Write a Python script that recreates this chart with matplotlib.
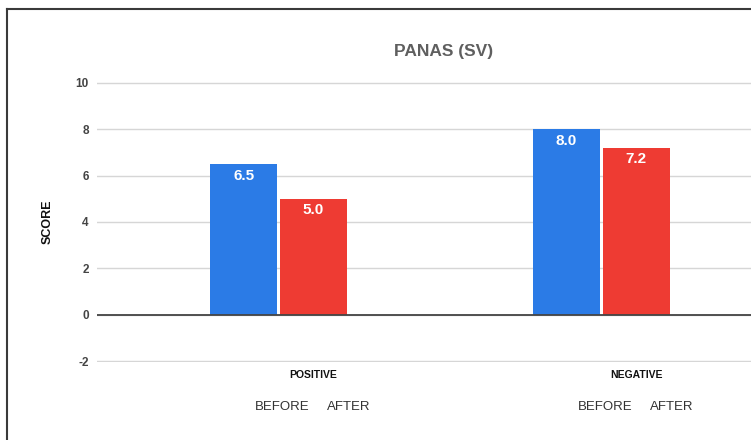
import matplotlib
matplotlib.use("Agg")
import matplotlib.pyplot as plt
from matplotlib.lines import Line2D
import numpy as np

categories = ["POSITIVE", "NEGATIVE"]
before = [6.5, 8.0]
after = [5.0, 7.2]
yticks = [-2, 0, 2, 4, 6, 8, 10]
title = "PANAS (SV)"
ylabel = "SCORE"
sub_labels = ["BEFORE", "AFTER"]

plt.rcParams['font.family'] = ['Liberation Sans', 'DejaVu Sans']

W, H = 751, 440
fig = plt.figure(figsize=(W / 100, H / 100), dpi=100)
ax = fig.add_axes([97 / W, 1 - 362 / H, 1 - 97 / W, (362 - 82) / H])

x = np.arange(len(categories))
bw = 0.207
off = 0.108
blue = "#2B7BE6"
red = "#EE3B33"
b1 = ax.bar(x - off, before, bw, color=blue, zorder=3)
b2 = ax.bar(x + off, after, bw, color=red, zorder=3)

for bars, vals in ((b1, before), (b2, after)):
    for r, v in zip(bars, vals):
        ax.text(r.get_x() + r.get_width() / 2, v - 0.2, f"{v:.1f}",
                ha="center", va="top", color="white", fontsize=11,
                fontweight="bold", zorder=4)

ax.set_xlim(-0.562, 1.463)
ax.set_ylim(-2.03, 10.03)
ax.set_yticks(yticks)
ax.set_yticklabels([str(t) for t in yticks], fontsize=8.5, fontweight="bold", color="#444444")
ax.set_xticks([])
ax.tick_params(axis="y", length=0, pad=6)
ax.grid(axis="y", color="#d6d6d6", lw=1, zorder=0)
ax.axhline(0, color="#444444", lw=1.3, zorder=3.5)
for s in ax.spines.values():
    s.set_visible(False)

ax.set_ylabel(ylabel, fontsize=9, fontweight="bold", color="#111111", labelpad=16)

tr = ax.get_xaxis_transform()
for i, c in enumerate(categories):
    ax.text(i + 0.108, -0.046, c, transform=tr, ha="center", va="center",
            fontsize=7.5, fontweight="bold", color="#111111")
    ax.text(i + 0.012, -0.161, sub_labels[0], transform=tr, ha="center", va="center",
            fontsize=9.5, color="#333333")
    ax.text(i + 0.218, -0.161, sub_labels[1], transform=tr, ha="center", va="center",
            fontsize=9.5, color="#333333")

fig.text(444 / W, 1 - 51 / H, title, ha="center", va="center", fontsize=12.5,
         fontweight="bold", color="#5f5f5f")

# frame of the screenshot
fig.add_artist(Line2D([7 / W, 1.0], [1 - 9 / H, 1 - 9 / H], color="#3a3a3a", lw=1.5,
                      transform=fig.transFigure))
fig.add_artist(Line2D([7 / W, 7 / W], [0, 1 - 9 / H], color="#3a3a3a", lw=1.5,
                      transform=fig.transFigure))

fig.savefig("out.png", dpi=100)
